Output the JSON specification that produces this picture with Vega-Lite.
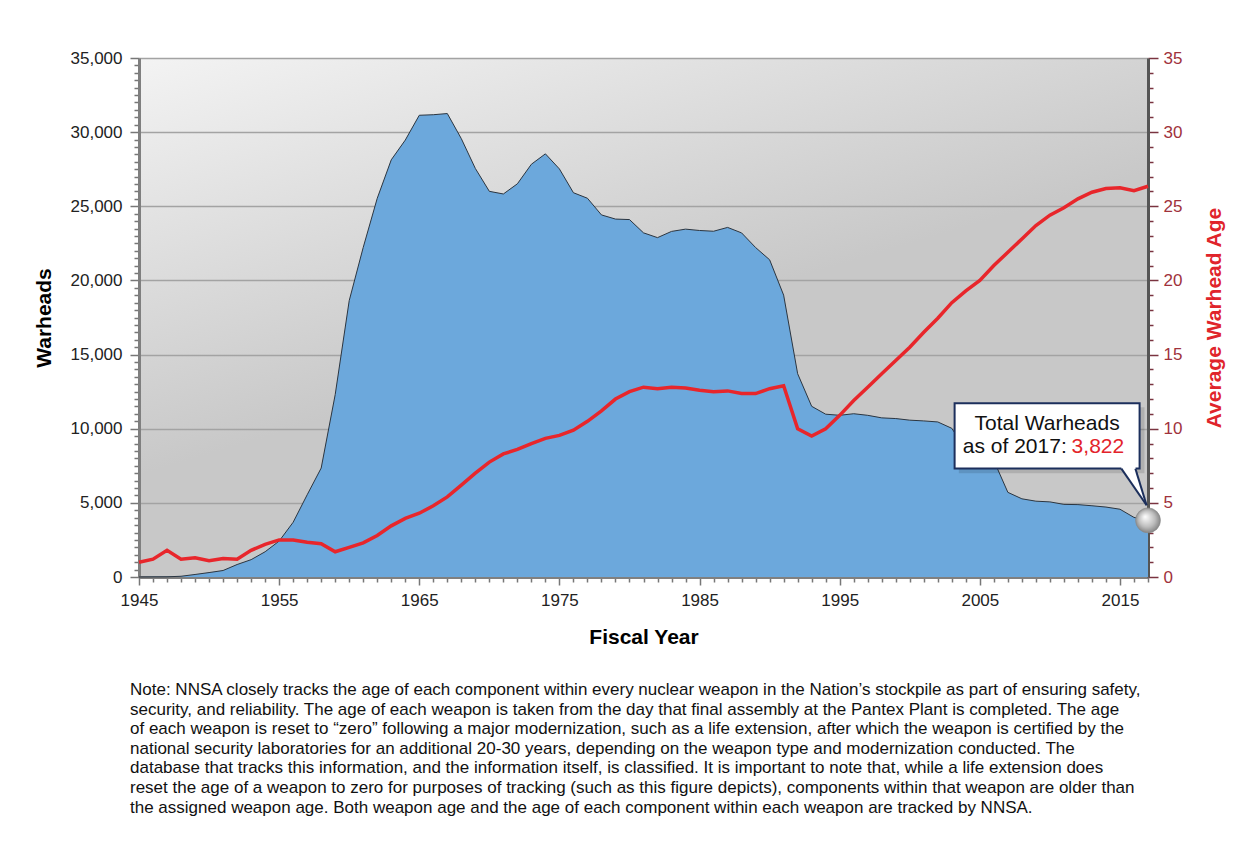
{
  "$schema": "https://vega.github.io/schema/vega-lite/v6.json",
  "width": 1009,
  "height": 519,
  "autosize": {"type": "none"},
  "padding": {"left": 139, "top": 58, "right": 103, "bottom": 268},
  "background": "white",
  "config": {
    "font": "Liberation Sans",
    "view": {
      "stroke": null,
      "fill": {"gradient": "linear", "x1": 0, "y1": 0, "x2": 0.35, "y2": 0.6, "stops": [{"offset": 0, "color": "#f3f3f3"}, {"offset": 1, "color": "#c8c8c8"}]}
    }
  },
  "title": {
    "text": [
      "Note: NNSA closely tracks the age of each component within every nuclear weapon in the Nation’s stockpile as part of ensuring safety,",
      "security, and reliability.  The age of each weapon is taken from the day that final assembly at the Pantex Plant is completed.  The age",
      "of each weapon is reset to “zero” following a major modernization, such as a life extension, after which the weapon is certified by the",
      "national security laboratories for an additional 20-30 years, depending on the weapon type and modernization conducted.  The",
      "database that tracks this information, and the information itself, is classified.  It is important to note that, while a life extension does",
      "reset the age of a weapon to zero for purposes of tracking (such as this figure depicts), components within that weapon are older than",
      "the assigned weapon age.  Both weapon age and the age of each component within each weapon are tracked by NNSA."
    ],
    "orient": "bottom",
    "anchor": "start",
    "frame": "group",
    "align": "left",
    "fontSize": 17,
    "fontWeight": "normal",
    "font": "Liberation Sans",
    "color": "#111111",
    "lineHeight": 19.6,
    "offset": 35,
    "dx": -9
  },
  "datasets": {
    "stockpile": [
      {"year": 1945, "warheads": 2, "age": 1.0},
      {"year": 1946, "warheads": 9, "age": 1.2},
      {"year": 1947, "warheads": 13, "age": 1.8},
      {"year": 1948, "warheads": 50, "age": 1.2},
      {"year": 1949, "warheads": 170, "age": 1.3},
      {"year": 1950, "warheads": 299, "age": 1.1},
      {"year": 1951, "warheads": 438, "age": 1.25},
      {"year": 1952, "warheads": 841, "age": 1.2},
      {"year": 1953, "warheads": 1169, "age": 1.8},
      {"year": 1954, "warheads": 1703, "age": 2.2},
      {"year": 1955, "warheads": 2422, "age": 2.5},
      {"year": 1956, "warheads": 3692, "age": 2.5},
      {"year": 1957, "warheads": 5543, "age": 2.35},
      {"year": 1958, "warheads": 7345, "age": 2.25},
      {"year": 1959, "warheads": 12298, "age": 1.7},
      {"year": 1960, "warheads": 18638, "age": 2.0},
      {"year": 1961, "warheads": 22229, "age": 2.3},
      {"year": 1962, "warheads": 25540, "age": 2.8},
      {"year": 1963, "warheads": 28133, "age": 3.45},
      {"year": 1964, "warheads": 29463, "age": 3.95},
      {"year": 1965, "warheads": 31139, "age": 4.3},
      {"year": 1966, "warheads": 31175, "age": 4.8},
      {"year": 1967, "warheads": 31255, "age": 5.4},
      {"year": 1968, "warheads": 29561, "age": 6.2},
      {"year": 1969, "warheads": 27552, "age": 7.0},
      {"year": 1970, "warheads": 26008, "age": 7.75},
      {"year": 1971, "warheads": 25830, "age": 8.3},
      {"year": 1972, "warheads": 26516, "age": 8.6},
      {"year": 1973, "warheads": 27835, "age": 9.0},
      {"year": 1974, "warheads": 28537, "age": 9.35},
      {"year": 1975, "warheads": 27519, "age": 9.55},
      {"year": 1976, "warheads": 25914, "age": 9.9},
      {"year": 1977, "warheads": 25542, "age": 10.5},
      {"year": 1978, "warheads": 24418, "age": 11.2},
      {"year": 1979, "warheads": 24138, "age": 12.0},
      {"year": 1980, "warheads": 24104, "age": 12.5},
      {"year": 1981, "warheads": 23208, "age": 12.8},
      {"year": 1982, "warheads": 22886, "age": 12.7},
      {"year": 1983, "warheads": 23305, "age": 12.8},
      {"year": 1984, "warheads": 23459, "age": 12.75},
      {"year": 1985, "warheads": 23368, "age": 12.6},
      {"year": 1986, "warheads": 23317, "age": 12.5},
      {"year": 1987, "warheads": 23575, "age": 12.55},
      {"year": 1988, "warheads": 23205, "age": 12.37},
      {"year": 1989, "warheads": 22217, "age": 12.37},
      {"year": 1990, "warheads": 21392, "age": 12.7},
      {"year": 1991, "warheads": 19008, "age": 12.9},
      {"year": 1992, "warheads": 13708, "age": 10.0},
      {"year": 1993, "warheads": 11511, "age": 9.5},
      {"year": 1994, "warheads": 10979, "age": 10.0},
      {"year": 1995, "warheads": 10904, "age": 10.9},
      {"year": 1996, "warheads": 11011, "age": 11.9},
      {"year": 1997, "warheads": 10903, "age": 12.8},
      {"year": 1998, "warheads": 10732, "age": 13.7},
      {"year": 1999, "warheads": 10685, "age": 14.6},
      {"year": 2000, "warheads": 10577, "age": 15.5},
      {"year": 2001, "warheads": 10526, "age": 16.5},
      {"year": 2002, "warheads": 10457, "age": 17.45},
      {"year": 2003, "warheads": 10027, "age": 18.5},
      {"year": 2004, "warheads": 8570, "age": 19.3},
      {"year": 2005, "warheads": 8360, "age": 20.0},
      {"year": 2006, "warheads": 7853, "age": 21.0},
      {"year": 2007, "warheads": 5709, "age": 21.9},
      {"year": 2008, "warheads": 5273, "age": 22.8},
      {"year": 2009, "warheads": 5113, "age": 23.7},
      {"year": 2010, "warheads": 5066, "age": 24.4},
      {"year": 2011, "warheads": 4897, "age": 24.9},
      {"year": 2012, "warheads": 4881, "age": 25.5},
      {"year": 2013, "warheads": 4804, "age": 25.95},
      {"year": 2014, "warheads": 4717, "age": 26.2},
      {"year": 2015, "warheads": 4571, "age": 26.25},
      {"year": 2016, "warheads": 4018, "age": 26.05},
      {"year": 2017, "warheads": 3822, "age": 26.35}
    ]
  },
  "layer": [
    {
      "layer": [
        {
          "data": {"name": "stockpile"},
          "mark": {"type": "area", "color": "#6ca8dc", "opacity": 1, "line": {"color": "#2b3540", "strokeWidth": 1}},
          "encoding": {
            "x": {
              "field": "year", "type": "quantitative",
              "scale": {"domain": [1945, 2017], "nice": false, "zero": false},
              "axis": {
                "values": [1945,1946,1947,1948,1949,1950,1951,1952,1953,1954,1955,1956,1957,1958,1959,1960,1961,1962,1963,1964,1965,1966,1967,1968,1969,1970,1971,1972,1973,1974,1975,1976,1977,1978,1979,1980,1981,1982,1983,1984,1985,1986,1987,1988,1989,1990,1991,1992,1993,1994,1995,1996,1997,1998,1999,2000,2001,2002,2003,2004,2005,2006,2007,2008,2009,2010,2011,2012,2013,2014,2015,2016,2017],
                "tickCount": 500,
                "labelExpr": "(datum.value - 1945) % 10 == 0 ? '' + datum.value : ''",
                "labelFlush": false,
                "labelOverlap": false,
                "labelFontSize": 17,
                "labelColor": "#222222",
                "labelPadding": 7,
                "tickSize": {"condition": {"test": "(datum.value - 1945) % 10 == 0", "value": 8}, "value": 5},
                "tickColor": "#777777",
                "tickWidth": 1.5,
                "domainColor": "#808080",
                "domainWidth": 3,
                "grid": false,
                "title": "Fiscal Year",
                "titleFontSize": 21,
                "titleFontWeight": "bold",
                "titleColor": "#000000",
                "titlePadding": 18
              }
            },
            "y": {
              "field": "warheads", "type": "quantitative",
              "scale": {"domain": [0, 35000], "nice": false},
              "axis": {
                "orient": "left",
                "values": [0,500,1000,1500,2000,2500,3000,3500,4000,4500,5000,5500,6000,6500,7000,7500,8000,8500,9000,9500,10000,10500,11000,11500,12000,12500,13000,13500,14000,14500,15000,15500,16000,16500,17000,17500,18000,18500,19000,19500,20000,20500,21000,21500,22000,22500,23000,23500,24000,24500,25000,25500,26000,26500,27000,27500,28000,28500,29000,29500,30000,30500,31000,31500,32000,32500,33000,33500,34000,34500,35000],
                "tickCount": 500,
                "labelExpr": "datum.value % 5000 == 0 ? format(datum.value, ',') : ''",
                "labelOverlap": false,
                "labelFontSize": 17,
                "labelColor": "#222222",
                "labelPadding": 8,
                "tickSize": {"condition": {"test": "datum.value % 5000 == 0", "value": 9}, "value": 5},
                "tickColor": "#777777",
                "tickWidth": 1.5,
                "domainColor": "#7f7f7f",
                "domainWidth": 3,
                "grid": true,
                "gridWidth": 1.5,
                "gridColor": {"condition": {"test": "datum.value % 5000 == 0", "value": "#a3a3a3"}, "value": "transparent"},
                "title": "Warheads",
                "titleFontSize": 21,
                "titleFontWeight": "bold",
                "titleColor": "#000000",
                "titlePadding": 16
              }
            }
          }
        },
        {
          "data": {"values": [{}]},
          "mark": {"type": "rect", "fill": "#000000", "opacity": 0.12},
          "encoding": {
            "x": {"datum": 2003.5, "type": "quantitative"},
            "x2": {"datum": 2016.75},
            "y": {"datum": 11450, "type": "quantitative"},
            "y2": {"datum": 7000}
          }
        },
        {
          "data": {"values": [{}]},
          "mark": {"type": "rect", "fill": "#ffffff", "stroke": "#1c2f5c", "strokeWidth": 2},
          "encoding": {
            "x": {"datum": 2003.2, "type": "quantitative"},
            "x2": {"datum": 2016.4},
            "y": {"datum": 11720, "type": "quantitative"},
            "y2": {"datum": 7310}
          }
        },
        {
          "data": {"values": [
            {"px": 2015.1, "lo": 7310, "hi": 7420},
            {"px": 2016.1, "lo": 5938, "hi": 7420},
            {"px": 2016.9, "lo": 4840, "hi": 4840}
          ]},
          "mark": {"type": "area", "fill": "#ffffff", "opacity": 1},
          "encoding": {
            "x": {"field": "px", "type": "quantitative"},
            "y": {"field": "lo", "type": "quantitative"},
            "y2": {"field": "hi"}
          }
        },
        {
          "data": {"values": [{}]},
          "mark": {"type": "rule", "stroke": "#1c2f5c", "strokeWidth": 2},
          "encoding": {
            "x": {"datum": 2015.1, "type": "quantitative"},
            "x2": {"datum": 2016.9},
            "y": {"datum": 7310, "type": "quantitative"},
            "y2": {"datum": 4840}
          }
        },
        {
          "data": {"values": [{}]},
          "mark": {"type": "rule", "stroke": "#1c2f5c", "strokeWidth": 2},
          "encoding": {
            "x": {"datum": 2016.1, "type": "quantitative"},
            "x2": {"datum": 2016.9},
            "y": {"datum": 7310, "type": "quantitative"},
            "y2": {"datum": 4840}
          }
        },
        {
          "data": {"values": [{}]},
          "mark": {"type": "text", "text": "Total Warheads", "fontSize": 21, "align": "center", "baseline": "middle", "color": "#111111"},
          "encoding": {
            "x": {"datum": 2009.8, "type": "quantitative"},
            "y": {"datum": 10350, "type": "quantitative"}
          }
        },
        {
          "data": {"values": [{}]},
          "mark": {"type": "text", "text": "as of 2017:", "fontSize": 21, "align": "right", "baseline": "middle", "color": "#111111"},
          "encoding": {
            "x": {"datum": 2011.2, "type": "quantitative"},
            "y": {"datum": 8770, "type": "quantitative"}
          }
        },
        {
          "data": {"values": [{}]},
          "mark": {"type": "text", "text": "3,822", "fontSize": 21, "align": "left", "baseline": "middle", "color": "#e3232a"},
          "encoding": {
            "x": {"datum": 2011.55, "type": "quantitative"},
            "y": {"datum": 8770, "type": "quantitative"}
          }
        },
        {
          "data": {"values": [{}]},
          "mark": {
            "type": "point", "filled": true, "size": 620, "opacity": 1, "stroke": "#8a8a8a", "strokeWidth": 0.6,
            "fill": {"gradient": "radial", "x1": 0.38, "y1": 0.35, "r1": 0, "x2": 0.5, "y2": 0.5, "r2": 0.55, "stops": [{"offset": 0, "color": "#ffffff"}, {"offset": 0.6, "color": "#bdbdbd"}, {"offset": 1, "color": "#7a7a7a"}]}
          },
          "encoding": {
            "x": {"datum": 2017, "type": "quantitative"},
            "y": {"datum": 3822, "type": "quantitative"}
          }
        }
      ]
    },
    {
      "data": {"name": "stockpile"},
      "mark": {"type": "line", "color": "#e8262b", "strokeWidth": 3.5},
      "encoding": {
        "x": {
          "field": "year", "type": "quantitative",
          "axis": {
            "values": [1945,1946,1947,1948,1949,1950,1951,1952,1953,1954,1955,1956,1957,1958,1959,1960,1961,1962,1963,1964,1965,1966,1967,1968,1969,1970,1971,1972,1973,1974,1975,1976,1977,1978,1979,1980,1981,1982,1983,1984,1985,1986,1987,1988,1989,1990,1991,1992,1993,1994,1995,1996,1997,1998,1999,2000,2001,2002,2003,2004,2005,2006,2007,2008,2009,2010,2011,2012,2013,2014,2015,2016,2017],
            "tickCount": 500,
            "labelExpr": "(datum.value - 1945) % 10 == 0 ? '' + datum.value : ''",
            "labelFlush": false,
            "labelOverlap": false,
            "labelFontSize": 17,
            "labelColor": "#222222",
            "labelPadding": 7,
            "tickSize": {"condition": {"test": "(datum.value - 1945) % 10 == 0", "value": 8}, "value": 5},
            "tickColor": "#777777",
            "tickWidth": 1.5,
            "domainColor": "#808080",
            "domainWidth": 3,
            "grid": false,
            "title": "Fiscal Year",
            "titleFontSize": 21,
            "titleFontWeight": "bold",
            "titleColor": "#000000",
            "titlePadding": 18
          }
        },
        "y": {
          "field": "age", "type": "quantitative",
          "scale": {"domain": [0, 35], "nice": false},
          "axis": {
            "orient": "right",
            "values": [0,1,2,3,4,5,6,7,8,9,10,11,12,13,14,15,16,17,18,19,20,21,22,23,24,25,26,27,28,29,30,31,32,33,34,35],
            "tickCount": 500,
            "labelExpr": "datum.value % 5 == 0 ? '' + datum.value : ''",
            "labelOverlap": false,
            "labelFontSize": 17,
            "labelColor": "#a0323c",
            "labelPadding": 5,
            "tickSize": {"condition": {"test": "datum.value % 5 == 0", "value": 10}, "value": 5},
            "tickColor": "#7a3440",
            "tickWidth": 1.5,
            "domainColor": "#555555",
            "domainWidth": 3,
            "grid": false,
            "title": "Average Warhead Age",
            "titleFontSize": 21,
            "titleFontWeight": "bold",
            "titleColor": "#e0242b",
            "titleAngle": 270,
            "titleBaseline": "top",
            "titlePadding": 22
          }
        }
      }
    }
  ],
  "resolve": {"scale": {"y": "independent"}, "axis": {"y": "independent"}}
}
